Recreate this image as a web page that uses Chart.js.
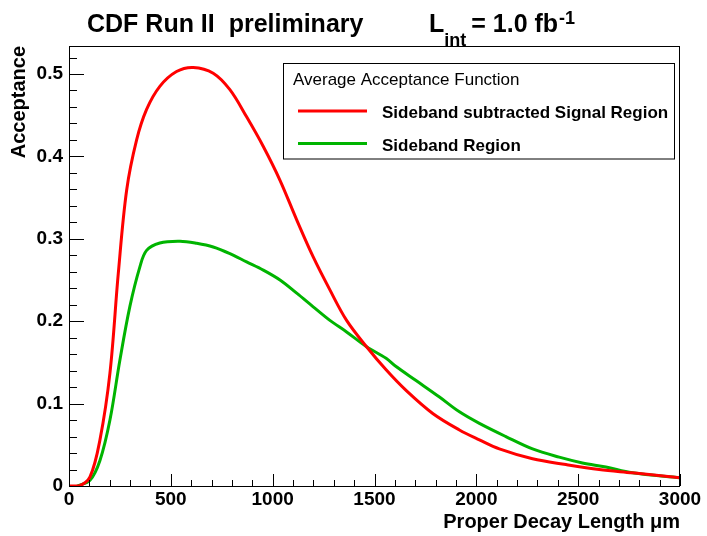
<!DOCTYPE html>
<html><head><meta charset="utf-8">
<script src="https://cdn.jsdelivr.net/npm/chart.js@4.4.1/dist/chart.umd.min.js"></script>
<style>html,body{margin:0;padding:0;background:#fff}canvas{display:block}</style>
</head><body>
<canvas id="c" width="707" height="536"></canvas>
<script>
// values (proper decay length in um, acceptance)
const xSignal=[0,50,103,152,201,242,283,332,381,446,528,610,708,790,872,954,1036,1118,1199,1281,1363,1461,1557,1655,1786,1917,2015,2113,2276,2440,2603,2766,3000];
const ySignal=[0,0,0.011,0.056,0.137,0.258,0.359,0.420,0.457,0.485,0.503,0.508,0.501,0.481,0.448,0.412,0.371,0.323,0.278,0.238,0.201,0.169,0.141,0.116,0.088,0.068,0.056,0.045,0.033,0.026,0.020,0.016,0.010];
const xSide=[40,103,152,201,250,299,348,381,446,545,627,708,790,872,954,1036,1118,1199,1281,1363,1461,1557,1606,1704,1819,1917,2015,2145,2276,2407,2521,2636,2766,3000];
const ySide=[0,0.007,0.031,0.080,0.153,0.218,0.266,0.286,0.295,0.297,0.2945,0.290,0.282,0.272,0.262,0.250,0.234,0.2175,0.201,0.187,0.169,0.155,0.145,0.128,0.108,0.090,0.076,0.060,0.045,0.035,0.028,0.023,0.016,0.010];
const seriesLabels=['Sideband subtracted Signal Region','Sideband Region'];
const seriesColors=['#ff0000','#00b400'];
const legendHeader='Average Acceptance Function';
const xTitle='Proper Decay Length \u03bcm';
const yTitle='Acceptance';

const toPts=(xs,ys)=>xs.map((x,i)=>({x:x,y:ys[i]}));
const F='"Liberation Sans", Arial, sans-serif';

// ROOT style: inward ticks + frame
const frame={id:'frame',afterDatasetsDraw(ch){
  const c=ch.ctx,a=ch.chartArea,xs=ch.scales.x,ys=ch.scales.y;
  c.save();c.strokeStyle='#000';c.lineWidth=1;
  c.strokeRect(a.left+0.5,a.top+0.5,a.right-a.left-1,a.bottom-a.top);
  c.beginPath();
  for(let v=0;v<=3000;v+=100){const p=Math.round(xs.getPixelForValue(v))+0.5,l=v%500===0?12:6;c.moveTo(p,a.bottom);c.lineTo(p,a.bottom-l);}
  for(let k=0;k<=26;k++){const p=Math.round(ys.getPixelForValue(k*0.02))+0.5,l=k%5===0?15:8;c.moveTo(a.left,p);c.lineTo(a.left+l,p);}
  c.stroke();c.restore();
}};

const legendBox={id:'legendBox',afterDatasetsDraw(ch){
  const c=ch.ctx;c.save();
  c.fillStyle='#fff';c.fillRect(283.5,63.5,391,95.5);
  c.strokeStyle='#000';c.lineWidth=1;c.strokeRect(283.5,63.5,391,95.5);
  c.fillStyle='#000';c.textBaseline='alphabetic';
  c.font='17px '+F;c.fillText(legendHeader,293,85);
  ch.data.datasets.forEach((d,i)=>{
    const y=111+i*32.5;
    c.strokeStyle=d.borderColor;c.lineWidth=3;c.beginPath();c.moveTo(298,y);c.lineTo(367,y);c.stroke();
    c.fillStyle='#000';c.font='bold 17px '+F;c.fillText(d.label,382,y+7);
  });
  c.restore();
}};

const title={id:'title',afterDraw(ch){
  const c=ch.ctx;c.save();c.fillStyle='#000';c.textBaseline='alphabetic';
  c.font='bold 25px '+F;c.fillText('CDF Run II  preliminary',87,32);
  let x=429;c.fillText('L',x,32);x+=c.measureText('L').width;
  c.font='bold 18px '+F;c.fillText('int',x,46);x+=c.measureText('int').width+5;
  c.font='bold 25px '+F;c.fillText('= 1.0 fb',x,32);x+=c.measureText('= 1.0 fb').width+1;
  c.font='bold 18px '+F;c.fillText('-1',x,24);
  c.restore();
}};

new Chart(document.getElementById('c'),{
  type:'line',
  data:{datasets:[
    {label:seriesLabels[0],data:toPts(xSignal,ySignal),borderColor:seriesColors[0],borderWidth:3,pointRadius:0,tension:0.35,fill:false},
    {label:seriesLabels[1],data:toPts(xSide,ySide),borderColor:seriesColors[1],borderWidth:3,pointRadius:0,tension:0.35,fill:false}
  ]},
  options:{
    responsive:false,devicePixelRatio:1,animation:false,
    layout:{padding:{top:46,right:27,left:0,bottom:0}},
    plugins:{legend:{display:false},tooltip:{enabled:false}},
    scales:{
      x:{type:'linear',min:0,max:3000,
        grid:{display:false,drawTicks:false},border:{display:false},
        ticks:{stepSize:500,padding:2,color:'#000',font:{family:F,size:19,weight:'bold'},maxRotation:0,callback:v=>String(v)},
        title:{display:true,text:xTitle,align:'end',color:'#000',font:{family:F,size:20,weight:'bold'},padding:{top:0,bottom:2}},
        afterFit(s){s.height=50;}},
      y:{type:'linear',min:0,max:0.534,
        grid:{display:false,drawTicks:false},border:{display:false},
        afterBuildTicks(s){s.ticks=[0,0.1,0.2,0.3,0.4,0.5].map(v=>({value:v}));},
        ticks:{padding:6,color:'#000',font:{family:F,size:19,weight:'bold'},callback:v=>v===0?'0':v.toFixed(1)},
        title:{display:true,text:yTitle,align:'end',color:'#000',font:{family:F,size:20,weight:'bold'},padding:{top:7,bottom:0}},
        afterFit(s){s.width=69;}}
    }
  },
  plugins:[frame,legendBox,title]
});
</script>
</body></html>
